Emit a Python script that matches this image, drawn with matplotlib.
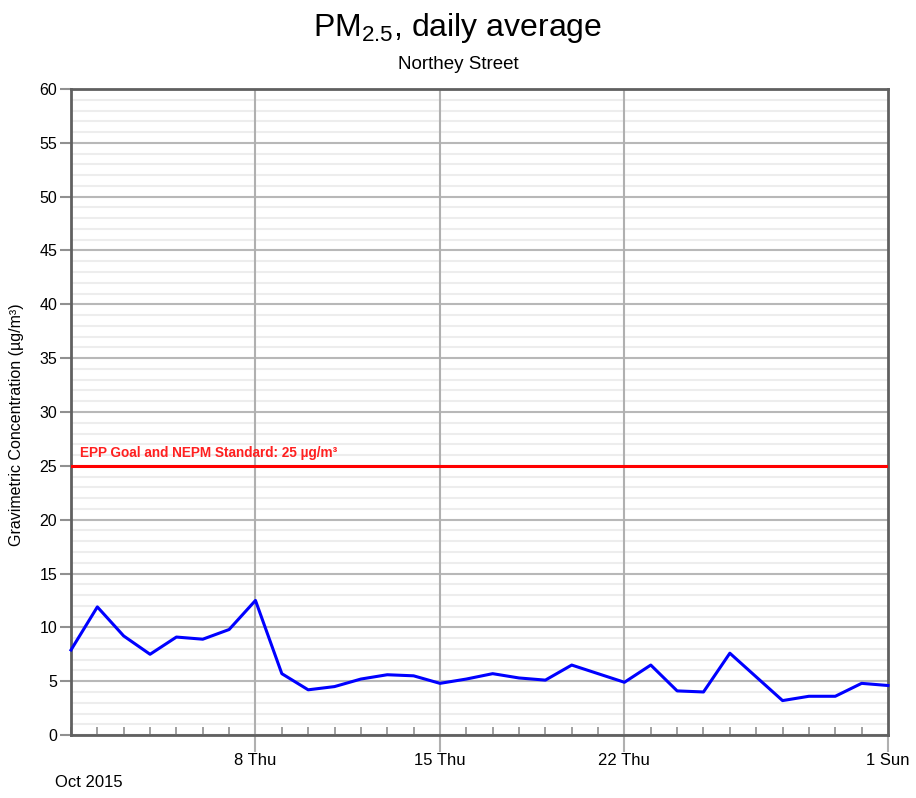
import numpy as np
import matplotlib
matplotlib.use("Agg")
import matplotlib.pyplot as plt
import matplotlib.dates as mdates
from matplotlib.ticker import MultipleLocator
import datetime as dt

plt.rcParams['font.family'] = ['Liberation Sans', 'DejaVu Sans']

# daily PM2.5 averages, Oct 1 2015 .. Nov 1 2015
start = dt.datetime(2015, 10, 1)
pm25 = [7.9, 11.9, 9.2, 7.5, 9.1, 8.9, 9.8, 12.5,
        5.7, 4.2, 4.5, 5.2, 5.6, 5.5, 4.8, 5.2,
        5.7, 5.3, 5.1, 6.5, 5.7, 4.9, 6.5, 4.1,
        4.0, 7.6, 5.4, 3.2, 3.6, 3.6, 4.8, 4.6]
days = [start + dt.timedelta(days=i) for i in range(len(pm25))]

standard = 25
standard_label = 'EPP Goal and NEPM Standard: 25 µg/m³'
week_ticks = [dt.datetime(2015, 10, 8), dt.datetime(2015, 10, 15),
              dt.datetime(2015, 10, 22), dt.datetime(2015, 11, 1)]
week_labels = ['8 Thu', '15 Thu', '22 Thu', '1 Sun']

fig = plt.figure(figsize=(9.16, 7.98), dpi=100)
ax = fig.add_axes([0.0775, 0.0789, 0.8919, 0.8096])

ax.set_xlim(days[0], days[-1])
ax.set_ylim(0, 60)

# grid
ax.yaxis.set_major_locator(MultipleLocator(5))
ax.yaxis.set_minor_locator(MultipleLocator(1))
ax.grid(which='minor', axis='y', color='#ededed', linewidth=1.5)
ax.grid(which='major', axis='y', color='#b8b8b8', linewidth=1.5)
ax.set_xticks(week_ticks)
ax.set_xticklabels(week_labels)
ax.xaxis.set_minor_locator(mdates.DayLocator())
for d in week_ticks[:-1]:
    ax.axvline(d, color='#b0b0b0', linewidth=1.5, zorder=0.9)
ax.set_axisbelow(True)

ax.tick_params(axis='y', which='major', direction='out', length=8, width=1.5,
               color='#909090', labelsize=11.5, pad=2)
ax.tick_params(axis='y', which='minor', length=0)
ax.tick_params(axis='x', which='major', direction='out', length=12, width=1.5,
               color='#b0b0b0', labelsize=12, pad=1)
ax.tick_params(axis='x', which='minor', direction='in', length=6, width=1.2,
               color='#909090')

for s in ax.spines.values():
    s.set_color('#606060')
    s.set_linewidth(2)

ax.axhline(standard, color='#ff0000', linewidth=2.2, zorder=3)
ax.text(days[0] + dt.timedelta(days=0.35), standard + 0.5, standard_label,
        color='#ff2020', fontsize=9.8, fontweight='bold', va='bottom', ha='left')

ax.plot(days, pm25, color='#0000ff', linewidth=2.2, zorder=4, clip_on=False)

ax.set_ylabel('Gravimetric Concentration (µg/m³)', fontsize=11.5)
ax.yaxis.set_label_coords(-0.057, 0.48)

fig.text(0.5, 0.965, 'PM$_{\\mathregular{2.5}}$, daily average', ha='center',
         va='center', fontsize=23)
fig.text(0.5, 0.919, 'Northey Street', ha='center', va='center', fontsize=13.5)
fig.text(0.06, 0.02, 'Oct 2015', ha='left', va='center', fontsize=12)

fig.savefig('out.png', dpi=100)
